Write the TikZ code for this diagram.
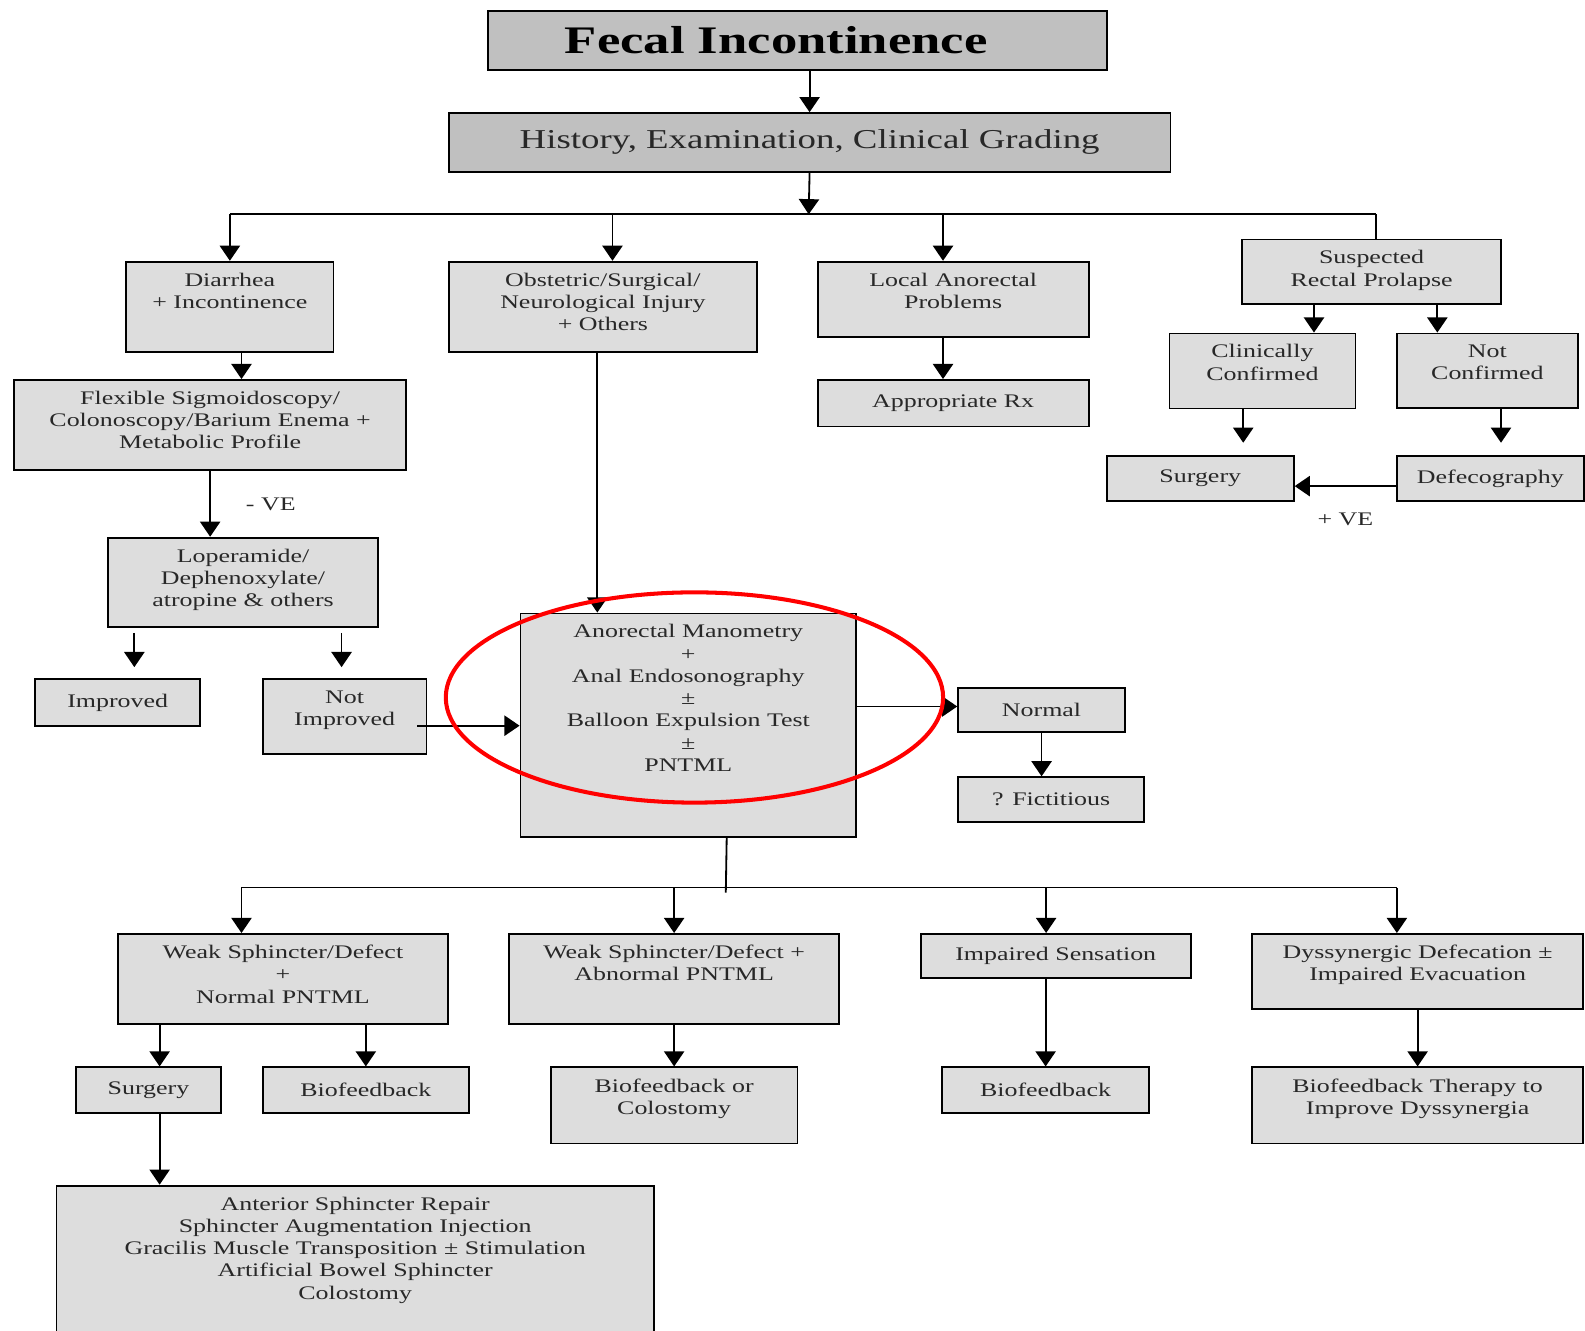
\documentclass[tikz,border=0pt]{standalone}
\usepackage{fontspec}
\setmainfont{Liberation Serif}[FakeStretch=1.35]
\usetikzlibrary{arrows.meta}
\definecolor{boxgray}{RGB}{221,221,221}
\definecolor{headgray}{RGB}{192,192,192}
\definecolor{inkgray}{RGB}{40,40,40}
\newcommand{\bpad}[1]{\rule[-#1]{0pt}{0pt}}
\tikzset{
    box/.style = {
        draw,
        fill = boxgray,
        line width = 0.9pt,
        anchor = north west,
        align = center,
        inner xsep = 2pt,
        inner ysep = 5.5pt,
        text = inkgray,
        font = \fontsize{9.5pt}{11pt}\selectfont,
        },
    head/.style = {
        box,
        fill = headgray,
        },
    arr/.style = {
        -{Triangle[width=10pt,length=7.5pt]},
        line width = 0.9pt,
        },
    wire/.style = {
        line width = 0.9pt,
        },
    lbl/.style = {
        text = inkgray,
        font = \fontsize{9.5pt}{11pt}\selectfont,
        },
    ring/.style = {
        draw = red,
        line width = 2pt,
        },
}

\begin{document}
\begin{tikzpicture}[x=0.5pt, y=-0.5pt]
            \useasboundingbox (0,0) rectangle (1568,1316);

            \node[head, minimum width=306pt, minimum height=29pt, text=black, font=\bfseries\fontsize{19.3pt}{22pt}\selectfont] (fecal) at (482,10) {Fecal Incontinence\hspace*{21pt}};
            \node[head, minimum width=357pt, minimum height=29pt, font=\fontsize{13.5pt}{16pt}\selectfont] (hist) at (443,111) {History, Examination, Clinical Grading};

            \node[box, minimum width=102.5pt, minimum height=44.5pt] (diar) at (124,258) {Diarrhea\\+ Incontinence\bpad{16pt}};
            \node[box, minimum width=152.5pt, minimum height=44.5pt] (obst) at (443,258) {Obstetric/Surgical/\\Neurological Injury\\+ Others\bpad{5pt}};
            \node[box, minimum width=134pt, minimum height=37pt] (local) at (808,258) {Local Anorectal\\Problems\bpad{8.5pt}};
            \node[box, minimum width=128pt, minimum height=32pt] (susp) at (1228,236) {Suspected\\Rectal Prolapse\bpad{3.5pt}};
            \node[box, minimum width=194pt, minimum height=44.5pt] (flex) at (13,375) {Flexible Sigmoidoscopy/\\Colonoscopy/Barium Enema +\\Metabolic Profile\bpad{5pt}};
            \node[box, minimum width=134pt, minimum height=23pt] (rx) at (808,375) {Appropriate Rx};
            \node[box, minimum width=92pt, minimum height=37pt] (clin) at (1156,329) {Clinically\\Confirmed\bpad{8.5pt}};
            \node[box, minimum width=89.5pt, minimum height=37pt] (notc) at (1381,329) {Not\\Confirmed\bpad{8.5pt}};
            \node[box, minimum width=92.5pt, minimum height=22.5pt] (surg) at (1094,450) {Surgery};
            \node[box, minimum width=92.5pt, minimum height=22.5pt] (defe) at (1381,450) {Defecography};
            \node[box, minimum width=133.5pt, minimum height=44pt] (lope) at (106,531) {Loperamide/\\Dephenoxylate/\\atropine \& others\bpad{4.5pt}};
            \node[box, minimum width=81.5pt, minimum height=23pt] (impr) at (34,671) {Improved};
            \node[box, minimum width=81pt, minimum height=37pt] (noti) at (259,671) {Not\\Improved\bpad{8.5pt}};
            \node[box, minimum width=166pt, minimum height=110.5pt] (am) at (514,606) {Anorectal Manometry\\+\\Anal Endosonography\\±\\Balloon Expulsion Test\\±\\PNTML\bpad{27pt}};
            \node[box, minimum width=82.5pt, minimum height=21.5pt] (norm) at (947,680) {Normal};
            \node[box, minimum width=92pt, minimum height=22pt] (fict) at (947,768) {? Fictitious};

            \node[box, minimum width=163pt, minimum height=44.5pt] (ws1) at (116,923) {Weak Sphincter/Defect\\+\\Normal PNTML\bpad{5pt}};
            \node[box, minimum width=163pt, minimum height=44.5pt] (ws2) at (503,923) {Weak Sphincter/Defect +\\Abnormal PNTML\bpad{16pt}};
            \node[box, minimum width=133.5pt, minimum height=22pt] (imps) at (910,923) {Impaired Sensation};
            \node[box, minimum width=163.5pt, minimum height=37pt] (dyss) at (1238,923) {Dyssynergic Defecation ±\\Impaired Evacuation\bpad{8.5pt}};
            \node[box, minimum width=72pt, minimum height=22.5pt] (surg2) at (74,1055) {Surgery};
            \node[box, minimum width=102pt, minimum height=22.5pt] (bio1) at (259,1055) {Biofeedback};
            \node[box, minimum width=122pt, minimum height=37.5pt] (bioc) at (544,1055) {Biofeedback or\\Colostomy\bpad{9pt}};
            \node[box, minimum width=102.5pt, minimum height=22.5pt] (bio2) at (931,1055) {Biofeedback};
            \node[box, minimum width=163.5pt, minimum height=37.5pt] (bt) at (1238,1055) {Biofeedback Therapy to\\Improve Dyssynergia\bpad{9pt}};
            \node[box, minimum width=295.5pt, minimum height=79pt] (opts) at (55,1172) {Anterior Sphincter Repair\\Sphincter Augmentation Injection\\Gracilis Muscle Transposition ± Stimulation\\Artificial Bowel Sphincter\\Colostomy\bpad{17.5pt}};

            \coordinate (bus1) at (800,212);
            \coordinate (bus2) at (718,878);
            \coordinate (ni) at ([xshift=-5pt,yshift=-4.5pt]noti.east);

            % top part
            \draw[arr] (fecal.south -| hist.north) -- (hist.north);
            \draw[arr] (hist.south) -- (bus1);
            \draw[wire] (diar.north |- bus1) -- ([xshift=2pt]susp.north |- bus1);
            \draw[arr] (diar.north |- bus1) -- (diar.north);
            \draw[arr] ([xshift=4.75pt]obst.north |- bus1) -- ([xshift=4.75pt]obst.north);
            \draw[arr] ([xshift=-5pt]local.north |- bus1) -- ([xshift=-5pt]local.north);
            \draw[wire] ([xshift=2pt]susp.north |- bus1) -- ([xshift=2pt]susp.north);

            \draw[arr] ([xshift=5.75pt]diar.south) -- ([xshift=5.75pt]diar.south |- flex.north);
            \draw[arr] (flex.south) -- (flex.south |- lope.north) node[lbl, midway, xshift=30pt] {- VE};
            \draw[arr, shorten <=2.5pt, shorten >=5.5pt] ([xshift=8.25pt]impr.north |- lope.south) -- ([xshift=8.25pt]impr.north);
            \draw[arr, shorten <=2.5pt, shorten >=5.5pt] ([xshift=-1.5pt]noti.north |- lope.south) -- ([xshift=-1.5pt]noti.north);
            \draw[arr] (ni) -- (ni -| am.west);
            \draw[arr] ([xshift=-2.75pt]obst.south) -- ([xshift=-2.75pt]obst.south |- am.north);
            \draw[arr] ([yshift=1.75pt]am.east |- norm.west) -- ([yshift=1.75pt]norm.west);
            \draw[arr] (norm.south) -- (norm.south |- fict.north);

            \draw[arr] ([xshift=-5pt]local.south) -- ([xshift=-5pt]local.south |- rx.north);
            \draw[arr] ([xshift=-28.5pt]susp.south) -- ([xshift=-28.5pt]susp.south |- clin.north);
            \draw[arr] ([xshift=32.5pt]susp.south) -- ([xshift=32.5pt]susp.south |- notc.north);
            \draw[arr, shorten >=6pt] ([xshift=-9.5pt]clin.south) -- ([xshift=-9.5pt]clin.south |- surg.north);
            \draw[arr, shorten >=6pt] ([xshift=6.75pt]notc.south) -- ([xshift=6.75pt]notc.south |- defe.north);
            \draw[arr] ([yshift=-3.75pt]defe.west) -- ([yshift=-3.75pt]surg.east) node[lbl, midway, yshift=-16.5pt] {+ VE};

            % bottom part
            \draw[wire] ([xshift=19pt]am.south) -- ([yshift=-2.5pt]bus2);
            \draw[wire] ([xshift=-20.5pt]ws1.north |- bus2) -- ([xshift=-10.25pt]dyss.north |- bus2);
            \draw[arr] ([xshift=-20.5pt]ws1.north |- bus2) -- ([xshift=-20.5pt]ws1.north);
            \draw[arr] (ws2.north |- bus2) -- (ws2.north);
            \draw[arr] ([xshift=-4.75pt]imps.north |- bus2) -- ([xshift=-4.75pt]imps.north);
            \draw[arr] ([xshift=-10.25pt]dyss.north |- bus2) -- ([xshift=-10.25pt]dyss.north);
            \draw[arr] ([xshift=5.5pt]surg2.north |- ws1.south) -- ([xshift=5.5pt]surg2.north);
            \draw[arr] (bio1.north |- ws1.south) -- (bio1.north);
            \draw[arr] (bioc.north |- ws2.south) -- (bioc.north);
            \draw[arr] (bio2.north |- imps.south) -- (bio2.north);
            \draw[arr] (bt.north |- dyss.south) -- (bt.north);
            \draw[arr] ([xshift=5.5pt]surg2.south) -- ([xshift=5.5pt]surg2.south |- opts.north);

            \draw[ring] (687,690) ellipse [x radius=123pt, y radius=52pt];
        \end{tikzpicture}
\end{document}
